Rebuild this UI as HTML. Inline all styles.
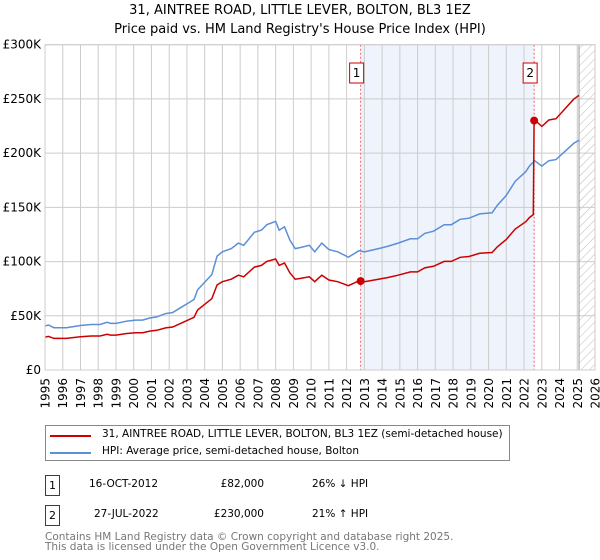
<!DOCTYPE html>
<html><head><meta charset="utf-8"><style>
body{margin:0;background:#fff;font-family:"DejaVu Sans","Liberation Sans",sans-serif;}
#wrap{position:relative;width:600px;height:560px;overflow:hidden;}
.t{position:absolute;white-space:nowrap;color:#000;}
</style></head><body>
<div id="wrap">
<div class="t" style="left:0;width:600px;text-align:center;top:3px;font-size:13px;">31, AINTREE ROAD, LITTLE LEVER, BOLTON, BL3 1EZ</div>
<div class="t" style="left:0;width:600px;text-align:center;top:22px;font-size:13px;">Price paid vs. HM Land Registry's House Price Index (HPI)</div>
<svg id="chart" width="600" height="420" style="position:absolute;left:0;top:0" font-family="DejaVu Sans, Liberation Sans, sans-serif">
<defs><pattern id="hatch" width="6" height="6" patternUnits="userSpaceOnUse" patternTransform="rotate(45)"><line x1="0" y1="0" x2="0" y2="6" stroke="#bbb" stroke-width="1"/></pattern></defs>
</svg>
<div style="position:absolute;left:45px;top:425px;width:463px;height:34px;border:1px solid #888;">
 <div style="position:absolute;left:4px;top:2px;height:16px;width:450px;">
  <div style="position:absolute;left:0;top:7px;width:41px;height:2px;background:#cc0000"></div>
  <div class="t" style="left:52px;top:0;font-size:10.5px;">31, AINTREE ROAD, LITTLE LEVER, BOLTON, BL3 1EZ (semi-detached house)</div>
 </div>
 <div style="position:absolute;left:4px;top:19px;height:16px;width:450px;">
  <div style="position:absolute;left:0;top:7px;width:41px;height:2px;background:#5b8fd6"></div>
  <div class="t" style="left:52px;top:0;font-size:10.5px;">HPI: Average price, semi-detached house, Bolton</div>
 </div>
</div>
<div>
 <div class="t" style="left:45px;top:475px;width:13px;height:19px;border:1px solid #cc0000;font-size:11px;text-align:center;line-height:19px;">1</div>
 <div class="t" style="left:89px;top:478px;font-size:10.5px;">16-OCT-2012</div>
 <div class="t" style="left:184px;width:80px;text-align:right;top:478px;font-size:10.5px;">£82,000</div>
 <div class="t" style="left:312px;top:478px;font-size:10.5px;">26% ↓ HPI</div>
</div>
<div>
 <div class="t" style="left:45px;top:505px;width:13px;height:19px;border:1px solid #cc0000;font-size:11px;text-align:center;line-height:19px;">2</div>
 <div class="t" style="left:94px;top:508px;font-size:10.5px;">27-JUL-2022</div>
 <div class="t" style="left:184px;width:80px;text-align:right;top:508px;font-size:10.5px;">£230,000</div>
 <div class="t" style="left:312px;top:508px;font-size:10.5px;">21% ↑ HPI</div>
</div>
<div class="t" style="left:45px;top:532px;font-size:10.5px;color:#777;line-height:10px;">Contains HM Land Registry data © Crown copyright and database right 2025.<br>This data is licensed under the Open Government Licence v3.0.</div>
</div>
<script>
const hpiYears=[1995.0,1995.2,1995.5,1996.2,1997.0,1997.6,1998.1,1998.5,1998.7,1999.0,1999.6,2000.1,2000.5,2000.9,2001.3,2001.8,2002.2,2002.6,2003.0,2003.4,2003.6,2004.0,2004.4,2004.7,2005.0,2005.5,2005.9,2006.2,2006.8,2007.2,2007.5,2008.0,2008.2,2008.5,2008.8,2009.1,2009.4,2009.9,2010.2,2010.6,2011.0,2011.5,2012.1,2012.7,2013.0,2013.8,2014.3,2014.9,2015.6,2016.0,2016.4,2016.9,2017.5,2017.9,2018.4,2018.9,2019.5,2020.2,2020.5,2021.0,2021.5,2022.1,2022.3,2022.6,2023.0,2023.4,2023.8,2024.2,2024.8,2025.1];
const hpiValues=[40600,41500,39000,39000,41000,42000,42000,44000,43000,43000,45000,46000,46000,48000,49000,52000,53000,57000,61000,65000,74000,81000,88000,105000,109000,112000,117000,115000,127000,129000,134000,137000,129000,132000,120000,112000,113000,115000,109000,117000,111000,109000,104000,110000,109000,112000,114000,117000,121000,121000,126000,128000,134000,134000,139000,140000,144000,145000,152000,161000,174000,183000,188000,193000,188000,193000,194000,200000,209000,212000];
const saleYears=[2012.79,2022.57];
const salePrices=[82000,230000];
const saleLabels=["1","2"];
const yTicks=[0,50000,100000,150000,200000,250000,300000];
const yTickLabels=["£0","£50K","£100K","£150K","£200K","£250K","£300K"];
const xTicks=[1995,1996,1997,1998,1999,2000,2001,2002,2003,2004,2005,2006,2007,2008,2009,2010,2011,2012,2013,2014,2015,2016,2017,2018,2019,2020,2021,2022,2023,2024,2025,2026];
const dataEnd=2025.1;

const L=45,R=595,T=44.7,B=370;
const X=y=>L+(y-1995)/(2026-1995)*(R-L);
const Y=v=>B-v/300000*(B-T);
const NS="http://www.w3.org/2000/svg";
const svg=document.getElementById('chart');
function mk(tag,attrs,parent){const e=document.createElementNS(NS,tag);for(const k in attrs)e.setAttribute(k,attrs[k]);(parent||svg).appendChild(e);return e;}
function hpiAt(t){for(let i=0;i<hpiYears.length-1;i++){if(t<=hpiYears[i+1]){const f=(t-hpiYears[i])/(hpiYears[i+1]-hpiYears[i]);return hpiValues[i]+f*(hpiValues[i+1]-hpiValues[i]);}}return hpiValues[hpiValues.length-1];}

const shade=mk('rect',{x:X(saleYears[0]),y:T,width:X(saleYears[1])-X(saleYears[0]),height:B-T,fill:'#eef3fc'});


const hatch=mk('rect',{x:X(dataEnd),y:T,width:R-X(dataEnd),height:B-T,fill:'url(#hatch)'});



xTicks.forEach(t=>{
  const g=mk('line',{x1:X(t),x2:X(t),y1:T,y2:B,stroke:'#ccc','stroke-width':1});
  
  
  const tx=mk('text',{x:0,y:0,transform:`translate(${X(t)+4.5},378) rotate(-90)`,'text-anchor':'end','font-size':12,fill:'#000'});
  tx.textContent=t;
  
  
});
yTicks.forEach((v,i)=>{
  const g=mk('line',{x1:L,x2:R,y1:Y(v),y2:Y(v),stroke:'#ccc','stroke-width':1});
  
  
  const tx=mk('text',{x:L-4,y:Y(v)+4,'text-anchor':'end','font-size':12,fill:'#000'});
  tx.textContent=yTickLabels[i];
  
  
});
const endLine=mk('line',{x1:X(dataEnd),x2:X(dataEnd),y1:T,y2:B,stroke:'#999','stroke-width':1});



saleYears.forEach((s,i)=>{
  const l=mk('line',{x1:X(s),x2:X(s),y1:T,y2:B,stroke:'#e66','stroke-width':1,'stroke-dasharray':'2,2'});
  
  
  const r=mk('rect',{x:X(s)-11,y:63,width:14,height:20,fill:'#fff',stroke:'#cc0000','stroke-width':1});
  
  
  const t=mk('text',{x:X(s)-4,y:77,'text-anchor':'middle','font-size':12,fill:'#000'});
  t.textContent=saleLabels[i];
  
  
});

let d='';
hpiYears.forEach((t,i)=>{d+=(i?'L':'M')+X(t).toFixed(1)+','+Y(hpiValues[i]).toFixed(1);});
const hp=mk('path',{d:d,fill:'none',stroke:'#5b8fd6','stroke-width':1.5});



const r1=salePrices[0]/hpiAt(saleYears[0]), r2=salePrices[1]/hpiAt(saleYears[1]);
let pd='';
hpiYears.forEach((t,i)=>{
  if(t>=saleYears[1])return;
  pd+=(pd?'L':'M')+X(t).toFixed(1)+','+Y(hpiValues[i]*r1).toFixed(1);
});
pd+='L'+X(saleYears[1]-0.05).toFixed(1)+','+Y(hpiAt(saleYears[1]-0.05)*r1).toFixed(1);
pd+='L'+X(saleYears[1]).toFixed(1)+','+Y(salePrices[1]).toFixed(1);
hpiYears.forEach((t,i)=>{
  if(t<=saleYears[1])return;
  pd+='L'+X(t).toFixed(1)+','+Y(hpiValues[i]*r2).toFixed(1);
});
const pp=mk('path',{d:pd,fill:'none',stroke:'#cc0000','stroke-width':1.5});



saleYears.forEach((s,i)=>{
  const c=mk('circle',{cx:X(s),cy:Y(salePrices[i]),r:4,fill:'#cc0000'});
  
  
});
const frame=mk('rect',{x:L,y:T,width:R-L,height:B-T,fill:'none',stroke:'#ccc','stroke-width':1});


</script>
</body></html>
